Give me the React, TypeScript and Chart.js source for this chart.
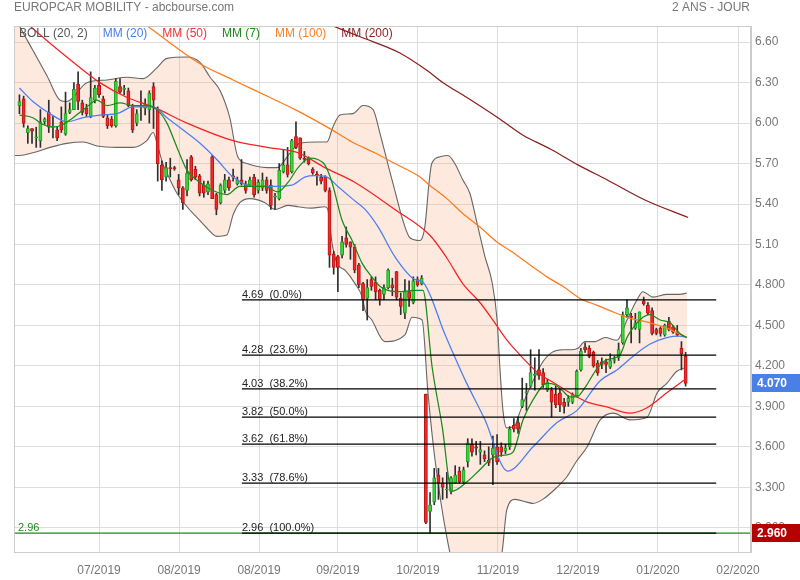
import React, { useEffect, useRef } from 'react';
import { Chart, registerables } from 'chart.js';

Chart.register(...registerables);

// ---------- DATA ----------
const OPEN = [
  6.13, 6.18, 5.93, 5.96, 5.89, 5.87, 6.01, 6.08, 5.97, 5.95,
  6.01, 5.92, 6.08, 6.10, 6.29, 6.15, 6.11, 6.05, 6.17, 6.28,
  6.18, 6.04, 6.03, 5.98, 6.27, 6.25, 6.24, 6.13, 6.00, 6.12,
  6.11, 6.10, 6.27, 6.10, 5.69, 5.60, 5.67, 5.67, 5.58, 5.52,
  5.50, 5.75, 5.66, 5.61, 5.54, 5.49, 5.75, 5.47, 5.41, 5.50,
  5.58, 5.61, 5.55, 5.58, 5.55, 5.54, 5.60, 5.50, 5.52, 5.58,
  5.54, 5.45, 5.44, 5.64, 5.69, 5.64, 5.90, 5.89, 5.74, 5.74,
  5.66, 5.62, 5.60, 5.60, 5.50, 5.03, 5.01, 5.02, 5.15, 5.12,
  5.08, 4.95, 4.81, 4.70, 4.84, 4.82, 4.76, 4.73, 4.78, 4.80,
  4.90, 4.70, 4.59, 4.75, 4.67, 4.84, 4.81, 3.99, 3.12, 3.19,
  3.39, 3.33, 3.28, 3.27, 3.33, 3.42, 3.34, 3.49, 3.62, 3.60,
  3.56, 3.54, 3.50, 3.54, 3.60, 3.60, 3.57, 3.60, 3.76, 3.78,
  3.90, 4.00, 4.05, 4.13, 4.17, 4.15, 4.02, 4.02, 3.99, 4.00,
  3.93, 3.93, 3.93, 3.98, 4.17, 4.34, 4.33, 4.30, 4.22, 4.23,
  4.23, 4.19, 4.24, 4.26, 4.37, 4.58, 4.57, 4.48, 4.47, 4.68,
  4.65, 4.61, 4.47, 4.48, 4.43, 4.53, 4.49, 4.45, 4.33, 4.27,
];
const HIGH = [
  6.21, 6.20, 5.98, 5.96, 5.97, 6.10, 6.04, 6.17, 6.05, 5.97,
  6.12, 6.23, 6.15, 6.30, 6.38, 6.17, 6.14, 6.38, 6.28, 6.34,
  6.20, 6.06, 6.05, 6.33, 6.33, 6.28, 6.26, 6.14, 6.10, 6.24,
  6.18, 6.24, 6.30, 6.12, 5.72, 5.71, 5.74, 5.68, 5.62, 5.53,
  5.73, 5.76, 5.68, 5.62, 5.57, 5.57, 5.76, 5.48, 5.55, 5.62,
  5.60, 5.66, 5.60, 5.73, 5.57, 5.60, 5.62, 5.58, 5.63, 5.60,
  5.58, 5.48, 5.70, 5.80, 5.82, 5.88, 6.01, 5.89, 5.79, 5.75,
  5.67, 5.64, 5.62, 5.61, 5.52, 5.05, 5.02, 5.16, 5.23, 5.12,
  5.10, 4.96, 4.82, 4.84, 4.86, 4.86, 4.77, 4.80, 4.92, 4.85,
  4.90, 4.74, 4.84, 4.83, 4.86, 4.86, 4.87, 3.99, 3.26, 3.44,
  3.44, 3.37, 3.41, 3.38, 3.46, 3.45, 3.45, 3.66, 3.66, 3.64,
  3.64, 3.57, 3.60, 3.68, 3.69, 3.63, 3.62, 3.75, 3.81, 3.82,
  4.11, 4.07, 4.32, 4.26, 4.32, 4.18, 4.10, 4.04, 4.05, 4.03,
  3.96, 3.98, 4.00, 4.17, 4.33, 4.37, 4.35, 4.31, 4.24, 4.26,
  4.25, 4.29, 4.27, 4.37, 4.60, 4.69, 4.59, 4.59, 4.60, 4.71,
  4.67, 4.63, 4.48, 4.49, 4.51, 4.56, 4.50, 4.50, 4.38, 4.30,
];
const LOW = [
  6.07, 5.97, 5.85, 5.85, 5.82, 5.82, 5.99, 5.93, 5.89, 5.87,
  5.93, 5.91, 6.07, 6.10, 6.10, 6.06, 6.05, 6.04, 6.15, 6.19,
  6.04, 5.96, 5.97, 5.97, 6.22, 6.21, 6.12, 5.93, 5.98, 6.02,
  6.06, 6.00, 5.96, 5.57, 5.50, 5.57, 5.60, 5.65, 5.47, 5.36,
  5.46, 5.57, 5.58, 5.46, 5.45, 5.47, 5.44, 5.32, 5.40, 5.48,
  5.50, 5.57, 5.54, 5.54, 5.48, 5.53, 5.45, 5.48, 5.50, 5.48,
  5.36, 5.36, 5.43, 5.63, 5.60, 5.63, 5.81, 5.73, 5.71, 5.69,
  5.62, 5.54, 5.55, 5.49, 4.93, 4.88, 4.75, 5.00, 5.08, 4.99,
  4.89, 4.78, 4.61, 4.54, 4.76, 4.69, 4.65, 4.69, 4.77, 4.72,
  4.69, 4.58, 4.55, 4.64, 4.66, 4.79, 4.80, 3.03, 2.96, 3.17,
  3.21, 3.21, 3.22, 3.25, 3.33, 3.33, 3.33, 3.45, 3.53, 3.54,
  3.47, 3.49, 3.46, 3.32, 3.47, 3.53, 3.55, 3.58, 3.71, 3.70,
  3.89, 3.87, 4.04, 4.02, 4.10, 4.04, 4.01, 3.82, 3.89, 3.86,
  3.85, 3.90, 3.92, 3.97, 4.16, 4.30, 4.26, 4.19, 4.13, 4.18,
  4.15, 4.18, 4.22, 4.24, 4.36, 4.56, 4.37, 4.47, 4.37, 4.65,
  4.58, 4.43, 4.43, 4.42, 4.42, 4.46, 4.44, 4.42, 4.17, 4.05,
];
const CLOSE = [
  6.16, 6.00, 5.96, 5.94, 5.89, 6.01, 6.03, 5.97, 5.97, 5.89,
  5.95, 6.07, 6.10, 6.25, 6.16, 6.08, 6.07, 6.19, 6.26, 6.21,
  6.05, 5.98, 5.98, 6.31, 6.23, 6.25, 6.13, 5.95, 6.07, 6.13,
  6.14, 6.22, 6.17, 5.70, 5.58, 5.67, 5.66, 5.66, 5.52, 5.41,
  5.63, 5.58, 5.60, 5.48, 5.48, 5.55, 5.44, 5.36, 5.54, 5.58,
  5.52, 5.60, 5.58, 5.55, 5.50, 5.58, 5.47, 5.56, 5.58, 5.50,
  5.39, 5.45, 5.65, 5.69, 5.62, 5.87, 5.82, 5.74, 5.73, 5.70,
  5.63, 5.61, 5.57, 5.50, 5.02, 4.93, 4.93, 5.12, 5.10, 5.08,
  4.91, 4.80, 4.69, 4.78, 4.79, 4.75, 4.69, 4.78, 4.91, 4.78,
  4.71, 4.64, 4.75, 4.70, 4.83, 4.80, 4.85, 3.04, 3.17, 3.37,
  3.33, 3.30, 3.28, 3.37, 3.39, 3.34, 3.43, 3.63, 3.56, 3.59,
  3.58, 3.51, 3.48, 3.59, 3.49, 3.56, 3.59, 3.73, 3.73, 3.73,
  3.95, 4.01, 4.15, 4.14, 4.13, 4.06, 4.08, 3.93, 3.91, 3.91,
  3.90, 3.96, 3.99, 4.16, 4.31, 4.32, 4.27, 4.20, 4.15, 4.21,
  4.21, 4.24, 4.24, 4.32, 4.58, 4.63, 4.56, 4.52, 4.60, 4.66,
  4.59, 4.44, 4.44, 4.44, 4.50, 4.47, 4.45, 4.43, 4.29, 4.07,
];

// indicator lines: [bar index, value]
const MM7: [number, number][] = [
  [0, 6.06], [3.2, 6.04], [5.6, 5.99], [8.0, 5.97], [10.4, 5.99], [12.8, 6.04], [16.1, 6.12], [18.5, 6.17],
  [20.9, 6.13], [24.0, 6.15], [27.1, 6.13], [30.4, 6.13], [32.8, 6.10], [35.2, 6.00], [37.6, 5.82], [40.0, 5.65],
  [43.1, 5.56], [46.2, 5.50], [49.5, 5.47], [52.6, 5.53], [55.7, 5.53], [58.6, 5.53], [61.7, 5.49], [64.1, 5.56],
  [66.5, 5.67], [69.3, 5.74], [71.2, 5.73], [72.9, 5.69], [74.6, 5.56], [77.0, 5.28], [79.4, 5.13], [81.8, 4.96],
  [84.1, 4.86], [86.0, 4.79], [87.9, 4.76], [90.3, 4.75], [94.4, 4.76], [96.3, 4.76], [98.5, 4.19], [100.9, 3.75],
  [103.2, 3.27], [106.8, 3.34], [109.9, 3.43], [113.0, 3.52], [116.3, 3.54], [117.8, 3.56], [120.2, 3.80], [122.6, 3.95],
  [125.9, 4.07], [127.8, 4.06], [129.5, 4.02], [131.4, 3.97], [133.0, 3.97], [135.0, 4.04], [137.4, 4.16], [139.8, 4.24],
  [143.3, 4.28], [145.0, 4.41], [146.4, 4.48], [148.8, 4.56], [150.4, 4.58], [152.9, 4.54], [155.3, 4.52], [157.6, 4.44],
  [159.3, 4.41],
];
const MM20: [number, number][] = [
  [0, 6.26], [3.2, 6.16], [7.3, 6.07], [11.3, 6.01], [15.2, 6.04], [19.2, 6.06], [23.3, 6.07], [27.1, 6.12],
  [31.9, 6.12], [35.2, 6.04], [39.0, 5.95], [43.1, 5.85], [47.1, 5.73], [51.0, 5.60], [55.7, 5.53], [60.5, 5.53],
  [65.0, 5.54], [68.1, 5.60], [70.5, 5.61], [73.4, 5.60], [76.0, 5.53], [79.4, 5.44], [82.5, 5.36], [85.6, 5.23],
  [89.6, 5.01], [94.4, 4.84], [96.3, 4.82], [101.6, 4.43], [106.3, 4.10], [111.1, 3.80], [116.5, 3.42], [122.6, 3.60],
  [128.3, 3.78], [133.1, 3.87], [138.6, 4.09], [142.6, 4.17], [146.4, 4.27], [150.4, 4.36], [154.5, 4.41], [157.6, 4.42],
  [159.3, 4.41],
];
const MM50: [number, number][] = [
  [0, 6.79], [2.5, 6.72], [11.3, 6.49], [19.2, 6.30], [25.7, 6.19], [31.9, 6.12], [40.0, 6.00], [51.0, 5.87],
  [59.1, 5.82], [66.5, 5.78], [72.9, 5.67], [80.1, 5.56], [89.6, 5.36], [97.9, 5.17], [102.0, 5.00], [105.8, 4.81],
  [109.9, 4.67], [113.0, 4.54], [115.9, 4.41], [118.3, 4.32], [123.7, 4.15], [127.8, 4.07], [131.9, 3.99], [135.7, 3.93],
  [139.7, 3.90], [145.7, 3.85], [149.8, 3.89], [154.5, 4.00], [159.3, 4.11],
];
const MM100: [number, number][] = [
  [26.4, 6.81], [30.5, 6.72], [43.1, 6.44], [51.0, 6.32], [59.8, 6.19], [65.8, 6.10], [74.6, 5.95], [79.4, 5.86],
  [84.8, 5.78], [89.6, 5.70], [95.6, 5.60], [97.9, 5.54], [102.0, 5.44], [105.8, 5.33], [109.9, 5.23], [113.9, 5.12],
  [117.8, 5.04], [121.8, 4.95], [125.9, 4.86], [129.7, 4.79], [133.8, 4.70], [137.8, 4.65], [140.9, 4.61], [145.0, 4.56],
  [150.4, 4.52], [154.5, 4.48], [159.3, 4.41],
];
const MM200: [number, number][] = [
  [70, 6.78], [74.8, 6.72], [81.3, 6.64], [90.8, 6.52], [97.3, 6.39], [101.1, 6.30], [106.8, 6.19], [114.2, 6.04],
  [120.2, 5.91], [126.6, 5.81], [133.3, 5.69], [140.2, 5.58], [149.3, 5.43], [159.6, 5.30],
];
const BOLL_UP: [number, number][] = [
  [-1.3, 6.80], [0, 6.72], [3.2, 6.54], [6.6, 6.35], [9.7, 6.17], [11.3, 6.16], [16.1, 6.30], [20.9, 6.32],
  [25.7, 6.34], [29.5, 6.33], [32.8, 6.41], [35.2, 6.48], [40.0, 6.49], [43.1, 6.45], [45.5, 6.34], [47.9, 6.24],
  [50.2, 6.04], [52.1, 5.75], [54.3, 5.70], [59.1, 5.67], [61.5, 5.67], [64.6, 5.78], [66.9, 5.85], [71.0, 5.86],
  [73.4, 5.86], [74.8, 5.97], [76.5, 6.06], [79.6, 6.07], [82.0, 6.13], [84.4, 6.10], [86.0, 5.93], [87.9, 5.70],
  [89.6, 5.50], [91.5, 5.28], [93.2, 5.15], [95.6, 5.13], [96.8, 5.24], [97.7, 5.54], [98.4, 5.70], [100.4, 5.75],
  [102.3, 5.76], [103.9, 5.70], [105.8, 5.58], [107.5, 5.48], [109.2, 5.26], [111.1, 5.01], [112.8, 4.82], [114.0, 4.54],
  [114.7, 4.17], [115.4, 3.87], [116.3, 3.74], [118.3, 3.76], [119.0, 3.82], [120.6, 3.95], [122.3, 4.07], [124.7, 4.22],
  [127.1, 4.30], [129.5, 4.32], [131.9, 4.32], [133.3, 4.33], [135.0, 4.38], [137.4, 4.38], [139.8, 4.41], [142.6, 4.39],
  [145.0, 4.54], [147.4, 4.69], [148.8, 4.75], [151.2, 4.71], [154.5, 4.73], [157.6, 4.73], [159.3, 4.74],
];
const BOLL_LOW: [number, number][] = [
  [-1.3, 5.76], [0, 5.76], [3.2, 5.78], [7.3, 5.82], [11.3, 5.85], [15.2, 5.86], [18.5, 5.83], [23.3, 5.82],
  [27.1, 5.82], [30.4, 5.87], [31.9, 5.93], [33.1, 5.82], [34.2, 5.70], [35.2, 5.63], [37.6, 5.48], [40.0, 5.38],
  [42.4, 5.30], [44.8, 5.22], [47.1, 5.16], [49.5, 5.17], [51.0, 5.32], [52.6, 5.41], [55.0, 5.44], [58.6, 5.41],
  [61.0, 5.36], [64.1, 5.39], [66.5, 5.38], [69.8, 5.37], [72.9, 5.38], [73.6, 5.36], [74.6, 5.11], [75.8, 4.96],
  [77.7, 4.91], [80.1, 4.81], [81.8, 4.71], [82.5, 4.61], [84.1, 4.54], [87.2, 4.38], [92.0, 4.43], [93.7, 4.56],
  [96.1, 4.54], [97.5, 4.00], [99.2, 3.50], [102.0, 2.93], [105.0, 2.55], [109.0, 2.35], [112.0, 2.45], [115.2, 2.82],
  [116.3, 3.13], [118.3, 3.21], [121.1, 3.19], [122.6, 3.18], [124.9, 3.21], [128.3, 3.30], [130.7, 3.38], [133.1, 3.50],
  [135.5, 3.60], [138.6, 3.80], [141.7, 3.85], [145.7, 3.80], [149.8, 3.82], [152.2, 4.00], [154.5, 4.07], [156.9, 4.16],
  [159.3, 4.19],
];

const FIB_LEVELS = [4.69, 4.28, 4.03, 3.82, 3.62, 3.33, 2.96];
const FIB_PCT = ['0.0%', '23.6%', '38.2%', '50.0%', '61.8%', '78.6%', '100.0%'];
const FIB_FROM = 53.1;
const FIB_TO = 166.3;
const LOW_MARK = 2.96;
const LAST_PRICE = 4.07;

const X_TICKS = [19.0, 38.1, 57.2, 76.0, 95.1, 114.2, 133.3, 152.4, 171.5];
const X_LABELS = ['07/2019', '08/2019', '08/2019', '09/2019', '10/2019', '11/2019', '12/2019', '01/2020', '02/2020'];
const Y_TICKS = [3.0, 3.3, 3.6, 3.9, 4.2, 4.5, 4.8, 5.1, 5.4, 5.7, 6.0, 6.3, 6.6];
const X_MIN = -1.3;
const X_MAX = 174.6;
const Y_MIN = 2.82;
const Y_MAX = 6.72;

const LEGEND: [string, string][] = [
  ['BOLL (20, 2)', '#555555'],
  ['MM (20)', '#4a7cf0'],
  ['MM (50)', '#f03434'],
  ['MM (7)', '#1f8a1f'],
  ['MM (100)', '#ff8023'],
  ['MM (200)', '#8b1f1f'],
];

// ---------- rendering ----------
const FONT = "'Liberation Sans', Arial, Helvetica, sans-serif";
const GREEN = '#3cd43c';
const GREEN_EDGE = '#1f9e1f';
const RED = '#f02a2a';
const RED_EDGE = '#b81414';

const pts = (arr: [number, number][]) => arr.map(([x, y]) => ({ x, y }));

const lineDs = (label: string, arr: [number, number][], color: string, order: number, extra: any = {}) => ({
  type: 'line',
  label,
  data: pts(arr),
  borderColor: color,
  borderWidth: 1.25,
  pointRadius: 0,
  cubicInterpolationMode: 'monotone',
  fill: false,
  order,
  ...extra,
});

const overlayPlugin = {
  id: 'overlay',
  afterDraw(chart: any) {
    const { ctx, chartArea: a } = chart;
    const xs = chart.scales.x;
    const ys = chart.scales.y;
    ctx.save();
    // frame
    ctx.strokeStyle = '#cccccc';
    ctx.lineWidth = 1;
    ctx.strokeRect(Math.round(a.left) + 0.5, Math.round(a.top) + 0.5, Math.round(a.right - a.left) - 1, Math.round(a.bottom - a.top));

    // titles
    ctx.font = `12px ${FONT}`;
    ctx.fillStyle = '#777777';
    ctx.textBaseline = 'middle';
    ctx.textAlign = 'left';
    ctx.fillText('EUROPCAR MOBILITY - abcbourse.com', 14, 8);
    ctx.textAlign = 'right';
    ctx.fillText('2 ANS - JOUR', 750, 8);

    // legend
    ctx.textAlign = 'left';
    let lx = 19;
    LEGEND.forEach(([t, c]) => {
      ctx.fillStyle = c;
      ctx.fillText(t, lx, 34);
      lx += ctx.measureText(t).width + 15;
    });

    // fibonacci labels
    ctx.font = `11px ${FONT}`;
    ctx.textBaseline = 'alphabetic';
    ctx.fillStyle = '#222222';
    const fx = xs.getPixelForValue(FIB_FROM);
    FIB_LEVELS.forEach((v, i) => {
      const py = ys.getPixelForValue(v);
      ctx.fillText(`${v.toFixed(2)}  (${FIB_PCT[i]})`, fx, py - 2);
    });
    ctx.fillStyle = '#1f8a1f';
    ctx.fillText(LOW_MARK.toFixed(2), 18, ys.getPixelForValue(LOW_MARK) - 2);

    // price tags
    const tag = (v: number, bg: string, txt: string) => {
      const py = ys.getPixelForValue(v);
      ctx.fillStyle = bg;
      ctx.fillRect(a.right + 1, Math.round(py) - 9, 800 - a.right - 1, 18);
      ctx.fillStyle = '#ffffff';
      ctx.font = `bold 12px ${FONT}`;
      ctx.textBaseline = 'middle';
      ctx.textAlign = 'left';
      ctx.fillText(txt, a.right + 6, Math.round(py) + 0.5);
    };
    tag(LAST_PRICE, '#4a7fe6', LAST_PRICE.toFixed(3));
    tag(LOW_MARK, '#b30000', LOW_MARK.toFixed(3));
    ctx.restore();
  },
};

export default function App() {
  const ref = useRef<HTMLCanvasElement | null>(null);

  useEffect(() => {
    document.body.style.margin = '0';
    Chart.defaults.font.family = FONT;
    const up = OPEN.map((o, i) => CLOSE[i] >= o);

    const datasets: any[] = [
      lineDs('BOLL up', BOLL_UP, '#666666', 30, { fill: '+1', backgroundColor: 'rgba(250, 165, 115, 0.24)', borderWidth: 1.1 }),
      lineDs('BOLL low', BOLL_LOW, '#666666', 29, { borderWidth: 1.1 }),
      {
        type: 'bar',
        label: 'wick',
        data: HIGH.map((h, i) => ({ x: i, y: [LOW[i], h] })),
        backgroundColor: '#2e2e2e',
        barThickness: 1,
        maxBarThickness: 1,
        grouped: false,
        order: 20,
      },
      {
        type: 'bar',
        label: 'body',
        data: OPEN.map((o, i) => ({ x: i, y: [o, CLOSE[i]] })),
        backgroundColor: up.map((u) => (u ? GREEN : RED)),
        borderColor: up.map((u) => (u ? GREEN_EDGE : RED_EDGE)),
        borderWidth: 1,
        borderSkipped: false,
        barThickness: 3.2,
        maxBarThickness: 3.2,
        minBarLength: 1,
        grouped: false,
        order: 19,
      },
      lineDs('MM (200)', MM200, '#8b1f1f', 10),
      lineDs('MM (100)', MM100, '#ff7a1a', 9),
      lineDs('MM (50)', MM50, '#f52222', 8),
      lineDs('MM (20)', MM20, '#4a7ef2', 7),
      lineDs('MM (7)', MM7, '#1a8a1a', 6),
      {
        type: 'line',
        label: 'low',
        data: [{ x: X_MIN, y: LOW_MARK }, { x: X_MAX, y: LOW_MARK }],
        borderColor: '#1a8a1a',
        borderWidth: 1.2,
        pointRadius: 0,
        order: 3,
      },
      ...FIB_LEVELS.map((v, i) => ({
        type: 'line',
        label: 'fib' + i,
        data: [{ x: FIB_FROM, y: v }, { x: FIB_TO, y: v }],
        borderColor: '#000000',
        borderWidth: 1.3,
        pointRadius: 0,
        order: 2,
      })),
    ];

    const chart = new Chart(ref.current as HTMLCanvasElement, {
      type: 'line',
      data: { datasets },
      options: {
        animation: false,
        responsive: false,
        events: [],
        layout: { padding: { top: 26, left: 14, right: 0, bottom: 0 } },
        plugins: { legend: { display: false }, tooltip: { enabled: false } },
        scales: {
          x: {
            type: 'linear',
            min: X_MIN,
            max: X_MAX,
            offset: false,
            afterBuildTicks: (s: any) => {
              s.ticks = X_TICKS.map((v) => ({ value: v }));
            },
            afterFit: (s: any) => {
              s.height = 28;
            },
            ticks: {
              autoSkip: false,
              maxRotation: 0,
              padding: 11,
              color: '#777777',
              font: { size: 12, family: FONT },
              callback: (_v: any, i: number) => X_LABELS[i],
            },
            grid: { color: '#dddddd', drawTicks: false, offset: false },
            border: { color: '#cccccc' },
          },
          y: {
            type: 'linear',
            position: 'right',
            min: Y_MIN,
            max: Y_MAX,
            afterBuildTicks: (s: any) => {
              s.ticks = Y_TICKS.map((v) => ({ value: v }));
            },
            afterFit: (s: any) => {
              s.width = 49;
            },
            ticks: {
              padding: 4,
              color: '#777777',
              font: { size: 12, family: FONT },
              callback: (v: any) => (Number(v) >= 5 ? Number(v).toFixed(2) : Number(v).toFixed(3)),
            },
            grid: { color: '#dddddd', drawTicks: false },
            border: { color: '#cccccc' },
          },
        },
      } as any,
      plugins: [overlayPlugin],
    } as any);

    return () => chart.destroy();
  }, []);

  return (
    <div style={{ position: 'absolute', left: 0, top: 0, width: 800, height: 580, background: '#ffffff' }}>
      <canvas ref={ref} width={800} height={580} style={{ display: 'block' }} />
    </div>
  );
}
